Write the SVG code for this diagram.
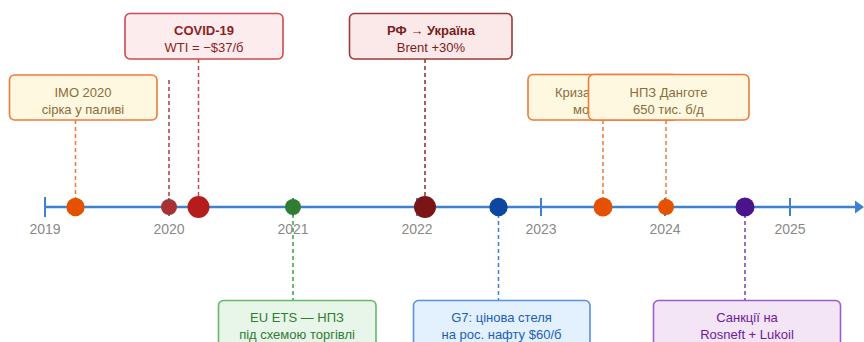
<svg xmlns="http://www.w3.org/2000/svg" width="864" height="342" viewBox="0 0 864 342">
  <style>
    text { font-family: "Liberation Sans", Arial, sans-serif; font-size: 13px; text-anchor: middle; }
    .yr { font-size: 14px; fill: #8a8a8a; }
    .b { font-weight: bold; }
    .box { stroke-width: 1.6; }
    .lead { stroke-width: 1.5; stroke-dasharray: 4 3; fill: none; }
    .amber { fill: #fff8e1; stroke: #f07a3a; }
    .amber-t { fill: #8a6d3b; }
    .rose { fill: #fdecee; stroke: #cf4a4f; }
    .rose-t { fill: #8e1f24; }
    .wine { fill: #fbe9ea; stroke: #9a3a3a; }
    .wine-t { fill: #7a1c1c; }
    .green { fill: #e8f5e9; stroke: #66b86a; }
    .green-t { fill: #2e7d32; }
    .blue { fill: #e3f0fd; stroke: #5b91d9; }
    .blue-t { fill: #1b5fb8; }
    .violet { fill: #f3e5f6; stroke: #9c5ccc; }
    .violet-t { fill: #6a1b9a; }
  </style>
  <defs>
    <!-- the Red Sea card sits under the Dangote card; keep its label to the uncovered strip -->
    <clipPath id="red-sea-visible">
      <rect x="528" y="74" width="60" height="47"/>
    </clipPath>
  </defs>

  <rect width="864" height="342" fill="#ffffff"/>

  <!-- timeline axis -->
  <g id="axis">
    <line x1="45" y1="207" x2="857" y2="207" stroke="#3f80d0" stroke-width="2.6"/>
    <polygon points="855,200.5 864,207 855,213.5" fill="#3f80d0"/>
    <g stroke="#3f80d0" stroke-width="2">
      <line x1="45" y1="197" x2="45" y2="217"/>
      <line x1="169" y1="198" x2="169" y2="216"/>
      <line x1="293" y1="198" x2="293" y2="216"/>
      <line x1="417" y1="198" x2="417" y2="216"/>
      <line x1="541" y1="198" x2="541" y2="216"/>
      <line x1="665" y1="198" x2="665" y2="216"/>
      <line x1="790" y1="198" x2="790" y2="216"/>
    </g>
    <text class="yr" x="45" y="234">2019</text>
    <text class="yr" x="169" y="234">2020</text>
    <text class="yr" x="293" y="234">2021</text>
    <text class="yr" x="417" y="234">2022</text>
    <text class="yr" x="541" y="234">2023</text>
    <text class="yr" x="665" y="234">2024</text>
    <text class="yr" x="790" y="234">2025</text>
  </g>

  <!-- dashed leaders from events to their cards -->
  <g id="connectors">
    <line class="lead" x1="75.5" y1="120" x2="75.5" y2="207" stroke="#f07a3a"/>
    <line class="lead" x1="169" y1="80" x2="169" y2="207" stroke="#b03a3a"/>
    <line class="lead" x1="198.5" y1="59" x2="198.5" y2="207" stroke="#d04448"/>
    <line class="lead" x1="425" y1="59" x2="425" y2="207" stroke="#8e2a2a"/>
    <line class="lead" x1="603" y1="120" x2="603" y2="207" stroke="#f07a3a"/>
    <line class="lead" x1="666" y1="120" x2="666" y2="207" stroke="#f07a3a"/>
    <line class="lead" x1="293" y1="207" x2="293" y2="300" stroke="#43a047"/>
    <line class="lead" x1="498.5" y1="207" x2="498.5" y2="300" stroke="#3f7fd0"/>
    <line class="lead" x1="745" y1="207" x2="745" y2="300" stroke="#7b3fb0"/>
  </g>

  <!-- event markers on the axis -->
  <g id="markers">
    <circle cx="75.5" cy="207" r="9.2" fill="#e65100"/>
    <circle cx="169" cy="207" r="8" fill="#a83232"/>
    <circle cx="198.5" cy="207" r="11" fill="#b71c1c"/>
    <circle cx="293" cy="207" r="8" fill="#2e7d32"/>
    <circle cx="425" cy="207" r="11" fill="#7b1515"/>
    <circle cx="498.5" cy="207" r="9.2" fill="#0d47a1"/>
    <circle cx="603" cy="207" r="9.5" fill="#e65100"/>
    <circle cx="666" cy="207" r="8" fill="#e65100"/>
    <circle cx="745" cy="207" r="9.5" fill="#4a148c"/>
  </g>

  <g id="imo2020">
    <rect class="box amber" x="9.5" y="75" width="147.5" height="45" rx="5"/>
    <text class="amber-t" x="83" y="96.5">IMO 2020</text>
    <text class="amber-t" x="83" y="113.5">сірка у паливі</text>
  </g>

  <g id="covid19">
    <rect class="box rose" x="125" y="13.5" width="158" height="45.5" rx="5"/>
    <text class="rose-t b" x="204" y="35">COVID-19</text>
    <text class="rose-t" x="204" y="52">WTI = −$37/б</text>
  </g>

  <g id="invasion">
    <rect class="box wine" x="349.5" y="13.5" width="162.5" height="45.5" rx="5"/>
    <text class="wine-t b" x="431" y="35">РФ → Україна</text>
    <text class="wine-t" x="431" y="52">Brent +30%</text>
  </g>

  <g id="red-sea">
    <rect class="box amber" x="528" y="74.5" width="150" height="45.5" rx="5"/>
    <g clip-path="url(#red-sea-visible)">
      <text class="amber-t" x="555" y="96.5" style="text-anchor:start">Криза в Червоному</text>
      <text class="amber-t" x="573" y="113.5" style="text-anchor:start">морі</text>
    </g>
  </g>

  <g id="dangote">
    <rect class="box amber" x="588.5" y="74.5" width="160.5" height="45.5" rx="5"/>
    <text class="amber-t" x="668.5" y="96.5">НПЗ Данготе</text>
    <text class="amber-t" x="668.5" y="113.5">650 тис. б/д</text>
  </g>

  <g id="eu-ets">
    <rect class="box green" x="218.5" y="300.5" width="157.5" height="60" rx="5"/>
    <text class="green-t" x="297" y="322">EU ETS — НПЗ</text>
    <text class="green-t" x="297" y="339">під схемою торгівлі</text>
  </g>

  <g id="price-cap">
    <rect class="box blue" x="413.5" y="300.5" width="176.5" height="60" rx="5"/>
    <text class="blue-t" x="501.5" y="322">G7: цінова стеля</text>
    <text class="blue-t" x="501.5" y="339">на рос. нафту $60/б</text>
  </g>

  <g id="sanctions">
    <rect class="box violet" x="653.5" y="300.5" width="187" height="60" rx="5"/>
    <text class="violet-t" x="747" y="322">Санкції на</text>
    <text class="violet-t" x="747" y="339">Rosneft + Lukoil</text>
  </g>
</svg>
